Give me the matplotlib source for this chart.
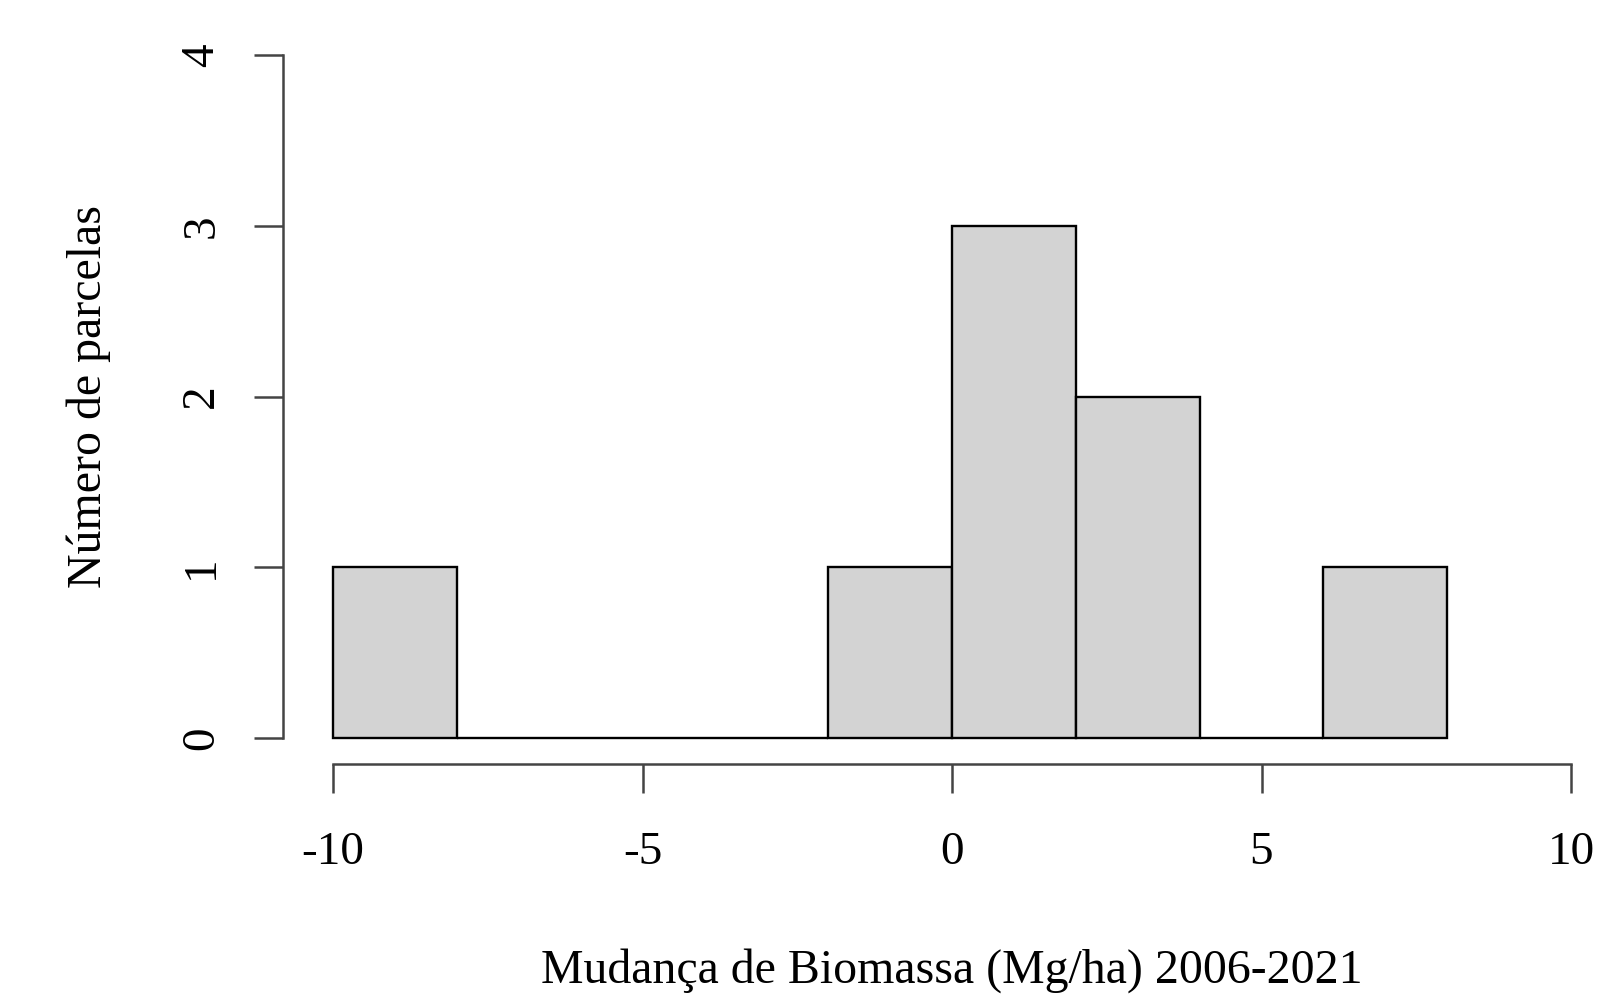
import matplotlib
matplotlib.use("Agg")
import matplotlib.pyplot as plt

# histogram counts (bins of width 2)
bin_edges = [-10, -8, -6, -4, -2, 0, 2, 4, 6, 8]
counts = [1, 0, 0, 0, 1, 3, 2, 0, 1]
x_ticks = [-10, -5, 0, 5, 10]
y_ticks = [0, 1, 2, 3, 4]

plt.rcParams['font.family'] = ['Liberation Serif', 'DejaVu Serif']
plt.rcParams['axes.unicode_minus'] = False

W, H = 1598, 1002
fig = plt.figure(figsize=(W / 100, H / 100), dpi=100)
left, right, bottom, top = 333, 1571, 738, 55
ax = fig.add_axes([left / W, 1 - bottom / H, (right - left) / W, (bottom - top) / H])

widths = [b - a for a, b in zip(bin_edges[:-1], bin_edges[1:])]
ax.bar(bin_edges[:-1], counts, width=widths, align='edge',
       color='#d3d3d3', edgecolor='black', linewidth=1.7, clip_on=False)

ax.set_xlim(-10, 10)
ax.set_ylim(0, 4)
for s in ['top', 'right']:
    ax.spines[s].set_visible(False)
ax.spines['left'].set_position(('outward', 36))
ax.spines['bottom'].set_position(('outward', 19))
ax.spines['left'].set_bounds(0, 4)
ax.spines['bottom'].set_bounds(-10, 10)
for s in ['left', 'bottom']:
    ax.spines[s].set_linewidth(1.8)
    ax.spines[s].set_color('#444444')

ax.set_xticks(x_ticks)
ax.set_yticks(y_ticks)
ax.set_yticklabels([str(v) for v in y_ticks], rotation=90, va='center')
ax.tick_params(axis='both', direction='out', length=21, width=1.8,
               color='#444444', labelsize=34)
ax.tick_params(axis='x', pad=27)
ax.tick_params(axis='y', pad=22)

ax.set_xlabel('Mudança de Biomassa (Mg/ha) 2006-2021', fontsize=34.5, labelpad=54)
ax.set_ylabel('Número de parcelas', fontsize=34.5, labelpad=50)

fig.savefig('out.png', dpi=100)
